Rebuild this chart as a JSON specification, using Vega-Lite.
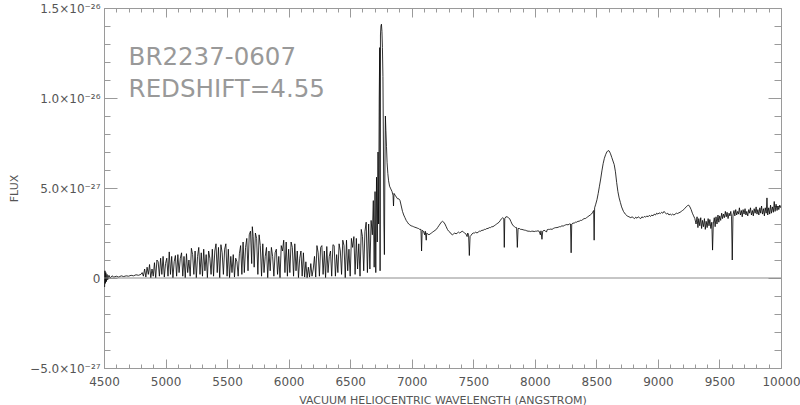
{
  "$schema": "https://vega.github.io/schema/vega-lite/v6.json",
  "autosize": {"type": "none"},
  "padding": {"left": 104, "top": 8, "right": 19, "bottom": 37},
  "width": 677,
  "height": 360,
  "background": "white",
  "config": {
    "view": {"stroke": "#9a9a9a", "strokeWidth": 1},
    "axis": {
      "domainColor": "#9a9a9a",
      "tickColor": "#9a9a9a",
      "labelColor": "#555555",
      "labelFont": "DejaVu Sans",
      "labelFontSize": 12,
      "titleColor": "#555555",
      "titleFont": "DejaVu Sans",
      "titleFontSize": 11,
      "titleFontWeight": "normal",
      "grid": false,
      "labelFlush": false,
      "labelOverlap": false
    }
  },
  "resolve": {"axis": {"x": "independent", "y": "independent"}},
  "layer": [
    {
      "data": {"values": [
        {"w":4505,"f":-0.5e-27},{"w":4508,"f":0.4e-27},{"w":4511,"f":-0.3e-27},{"w":4515,"f":0.3e-27},{"w":4520,"f":-0.2e-27},{"w":4525,"f":0.2e-27},{"w":4530,"f":-0.1e-27},{"w":4540,"f":0.15e-27},{"w":4550,"f":0.0e-27},{"w":4565,"f":0.12e-27},{"w":4580,"f":0.05e-27},{"w":4600,"f":0.1e-27},{"w":4620,"f":0.05e-27},{"w":4640,"f":0.12e-27},{"w":4660,"f":0.08e-27},{"w":4680,"f":0.12e-27},{"w":4700,"f":0.1e-27},{"w":4720,"f":0.15e-27},{"w":4740,"f":0.12e-27},{"w":4760,"f":0.18e-27},{"w":4780,"f":0.15e-27},{"w":4800,"f":0.2e-27},{"w":4810,"f":0.3e-27},
        {"w":4820,"f":0.1e-27},{"w":4830,"f":0.5e-27},{"w":4840,"f":0.05e-27},{"w":4850,"f":0.6e-27},{"w":4860,"f":0.2e-27},{"w":4870,"f":0.75e-27},{"w":4880,"f":0.0e-27},{"w":4890,"f":0.5e-27},{"w":4900,"f":0.1e-27},{"w":4910,"f":0.85e-27},{"w":4920,"f":0.0e-27},{"w":4930,"f":1.0e-27},{"w":4940,"f":0.9e-27},{"w":4950,"f":0.1e-27},{"w":4960,"f":1.1e-27},{"w":4970,"f":0.2e-27},{"w":4980,"f":1.2e-27},{"w":4990,"f":0.05e-27},{"w":5000,"f":0.8e-27},
        {"w":5010,"f":1.1e-27},{"w":5020,"f":0.1e-27},{"w":5030,"f":1.45e-27},{"w":5040,"f":0.2e-27},{"w":5050,"f":1.2e-27},{"w":5060,"f":0.0e-27},{"w":5070,"f":0.9e-27},{"w":5080,"f":1.25e-27},{"w":5090,"f":0.1e-27},{"w":5100,"f":1.3e-27},{"w":5110,"f":0.3e-27},{"w":5120,"f":1.1e-27},{"w":5130,"f":1.4e-27},{"w":5140,"f":0.1e-27},{"w":5150,"f":1.2e-27},{"w":5160,"f":0.0e-27},{"w":5170,"f":1.35e-27},{"w":5180,"f":0.3e-27},{"w":5190,"f":1.0e-27},{"w":5200,"f":0.1e-27},
        {"w":5210,"f":1.65e-27},{"w":5220,"f":1.3e-27},{"w":5230,"f":0.2e-27},{"w":5240,"f":1.5e-27},{"w":5250,"f":0.0e-27},{"w":5260,"f":1.2e-27},{"w":5270,"f":1.7e-27},{"w":5280,"f":0.2e-27},{"w":5290,"f":1.4e-27},{"w":5300,"f":0.1e-27},{"w":5310,"f":1.6e-27},{"w":5320,"f":0.4e-27},{"w":5330,"f":1.3e-27},{"w":5340,"f":0.0e-27},{"w":5350,"f":1.5e-27},{"w":5360,"f":1.1e-27},{"w":5370,"f":0.2e-27},{"w":5380,"f":1.6e-27},{"w":5390,"f":0.1e-27},{"w":5400,"f":1.5e-27},
        {"w":5410,"f":1.9e-27},{"w":5420,"f":0.3e-27},{"w":5430,"f":1.7e-27},{"w":5440,"f":0.0e-27},{"w":5450,"f":1.85e-27},{"w":5460,"f":1.4e-27},{"w":5470,"f":0.2e-27},{"w":5480,"f":1.6e-27},{"w":5490,"f":1.9e-27},{"w":5500,"f":0.1e-27},{"w":5510,"f":1.6e-27},{"w":5520,"f":0.0e-27},{"w":5530,"f":1.2e-27},{"w":5540,"f":0.3e-27},{"w":5550,"f":1.3e-27},{"w":5560,"f":0.05e-27},{"w":5570,"f":1.1e-27},{"w":5580,"f":0.9e-27},{"w":5590,"f":0.1e-27},{"w":5600,"f":1.35e-27},
        {"w":5610,"f":1.8e-27},{"w":5620,"f":0.2e-27},{"w":5630,"f":2.0e-27},{"w":5640,"f":0.3e-27},{"w":5650,"f":1.7e-27},{"w":5660,"f":2.2e-27},{"w":5670,"f":0.4e-27},{"w":5680,"f":2.4e-27},{"w":5690,"f":2.6e-27},{"w":5700,"f":0.8e-27},{"w":5705,"f":2.85e-27},{"w":5712,"f":2.3e-27},{"w":5720,"f":0.6e-27},{"w":5730,"f":2.5e-27},{"w":5740,"f":2.2e-27},{"w":5750,"f":0.2e-27},{"w":5760,"f":2.4e-27},{"w":5770,"f":1.8e-27},{"w":5780,"f":0.1e-27},{"w":5790,"f":1.9e-27},{"w":5800,"f":0.3e-27},
        {"w":5810,"f":1.2e-27},{"w":5820,"f":1.7e-27},{"w":5830,"f":0.0e-27},{"w":5840,"f":1.5e-27},{"w":5850,"f":0.4e-27},{"w":5860,"f":1.7e-27},{"w":5870,"f":1.2e-27},{"w":5880,"f":0.1e-27},{"w":5890,"f":1.4e-27},{"w":5900,"f":1.6e-27},{"w":5910,"f":0.2e-27},{"w":5920,"f":1.2e-27},{"w":5930,"f":0.0e-27},{"w":5940,"f":1.8e-27},{"w":5950,"f":1.5e-27},{"w":5960,"f":2.1e-27},{"w":5970,"f":0.3e-27},{"w":5980,"f":2.0e-27},{"w":5990,"f":0.1e-27},{"w":6000,"f":1.6e-27},
        {"w":6010,"f":0.3e-27},{"w":6020,"f":2.0e-27},{"w":6030,"f":1.7e-27},{"w":6040,"f":0.1e-27},{"w":6050,"f":1.9e-27},{"w":6060,"f":0.4e-27},{"w":6070,"f":1.5e-27},{"w":6080,"f":0.0e-27},{"w":6090,"f":1.1e-27},{"w":6100,"f":1.5e-27},{"w":6110,"f":0.1e-27},{"w":6120,"f":1.4e-27},{"w":6130,"f":0.05e-27},{"w":6140,"f":0.9e-27},{"w":6150,"f":0.0e-27},{"w":6160,"f":0.6e-27},{"w":6170,"f":0.05e-27},{"w":6180,"f":0.8e-27},{"w":6190,"f":0.1e-27},{"w":6200,"f":0.5e-27},
        {"w":6210,"f":1.2e-27},{"w":6220,"f":0.05e-27},{"w":6230,"f":1.8e-27},{"w":6240,"f":1.4e-27},{"w":6250,"f":0.1e-27},{"w":6260,"f":1.7e-27},{"w":6270,"f":1.8e-27},{"w":6280,"f":0.2e-27},{"w":6290,"f":1.5e-27},{"w":6300,"f":0.0e-27},{"w":6310,"f":1.75e-27},{"w":6320,"f":0.3e-27},{"w":6330,"f":1.2e-27},{"w":6340,"f":1.5e-27},{"w":6350,"f":0.1e-27},{"w":6360,"f":1.85e-27},{"w":6370,"f":1.8e-27},{"w":6380,"f":0.1e-27},{"w":6390,"f":1.3e-27},{"w":6400,"f":0.3e-27},
        {"w":6410,"f":1.9e-27},{"w":6420,"f":1.5e-27},{"w":6430,"f":0.2e-27},{"w":6440,"f":2.1e-27},{"w":6450,"f":1.8e-27},{"w":6460,"f":0.0e-27},{"w":6470,"f":2.1e-27},{"w":6480,"f":0.4e-27},{"w":6490,"f":1.6e-27},{"w":6500,"f":0.1e-27},{"w":6510,"f":2.2e-27},{"w":6520,"f":1.7e-27},{"w":6530,"f":2.3e-27},{"w":6540,"f":0.2e-27},{"w":6550,"f":2.2e-27},{"w":6560,"f":0.5e-27},{"w":6570,"f":1.9e-27},{"w":6580,"f":0.1e-27},{"w":6590,"f":2.7e-27},{"w":6600,"f":2.3e-27},
        {"w":6610,"f":0.4e-27},{"w":6620,"f":2.6e-27},{"w":6630,"f":3.1e-27},{"w":6640,"f":0.3e-27},{"w":6650,"f":3.0e-27},{"w":6660,"f":0.5e-27},{"w":6670,"f":3.2e-27},{"w":6680,"f":2.4e-27},{"w":6688,"f":4.3e-27},{"w":6695,"f":0.6e-27},{"w":6702,"f":4.8e-27},{"w":6708,"f":0.3e-27},{"w":6714,"f":5.6e-27},{"w":6720,"f":2.0e-27},{"w":6726,"f":7.0e-27},{"w":6731,"f":3.0e-27},{"w":6736,"f":10.0e-27},{"w":6740,"f":12.8e-27},{"w":6743,"f":0.4e-27},{"w":6746,"f":13.5e-27},
        {"w":6750,"f":14.0e-27},{"w":6754,"f":14.1e-27},{"w":6758,"f":13.7e-27},{"w":6762,"f":12.8e-27},{"w":6766,"f":11.2e-27},{"w":6770,"f":7.5e-27},{"w":6774,"f":3.0e-27},{"w":6778,"f":1.3e-27},{"w":6782,"f":6.0e-27},{"w":6786,"f":9.0e-27},{"w":6790,"f":8.2e-27},{"w":6795,"f":7.3e-27},{"w":6800,"f":6.4e-27},{"w":6806,"f":5.8e-27},{"w":6812,"f":5.4e-27},{"w":6820,"f":5.1e-27},{"w":6830,"f":4.95e-27},{"w":6840,"f":4.8e-27},{"w":6848,"f":4.6e-27},{"w":6852,"f":4.0e-27},{"w":6856,"f":4.7e-27},{"w":6865,"f":4.6e-27},{"w":6875,"f":4.5e-27},{"w":6885,"f":4.4e-27},{"w":6895,"f":4.4e-27},{"w":6905,"f":4.3e-27},
        {"w":6915,"f":4.0e-27},{"w":6925,"f":3.7e-27},{"w":6935,"f":3.5e-27},{"w":6945,"f":3.35e-27},{"w":6955,"f":3.2e-27},{"w":6965,"f":3.1e-27},{"w":6975,"f":3.0e-27},{"w":6985,"f":2.95e-27},{"w":6995,"f":2.9e-27},{"w":7005,"f":2.88e-27},{"w":7015,"f":2.85e-27},{"w":7025,"f":2.82e-27},{"w":7035,"f":2.8e-27},{"w":7045,"f":2.77e-27},{"w":7055,"f":2.75e-27},{"w":7065,"f":2.7e-27},{"w":7075,"f":2.7e-27},{"w":7080,"f":1.5e-27},{"w":7085,"f":2.65e-27},{"w":7095,"f":2.6e-27},{"w":7105,"f":2.4e-27},{"w":7110,"f":2.6e-27},{"w":7118,"f":2.1e-27},{"w":7122,"f":2.5e-27},{"w":7130,"f":2.45e-27},{"w":7140,"f":2.4e-27},
        {"w":7150,"f":2.45e-27},{"w":7160,"f":2.5e-27},{"w":7170,"f":2.55e-27},{"w":7180,"f":2.6e-27},{"w":7190,"f":2.65e-27},{"w":7200,"f":2.7e-27},{"w":7210,"f":2.8e-27},{"w":7220,"f":2.9e-27},{"w":7230,"f":3.0e-27},{"w":7240,"f":3.1e-27},{"w":7250,"f":3.15e-27},{"w":7260,"f":3.1e-27},{"w":7270,"f":3.0e-27},{"w":7280,"f":2.85e-27},{"w":7290,"f":2.7e-27},{"w":7300,"f":2.6e-27},{"w":7310,"f":2.55e-27},{"w":7320,"f":2.45e-27},{"w":7330,"f":2.4e-27},{"w":7340,"f":2.45e-27},{"w":7350,"f":2.5e-27},{"w":7360,"f":2.45e-27},{"w":7370,"f":2.5e-27},{"w":7380,"f":2.55e-27},{"w":7390,"f":2.5e-27},{"w":7400,"f":2.55e-27},
        {"w":7410,"f":2.6e-27},{"w":7420,"f":2.55e-27},{"w":7430,"f":2.5e-27},{"w":7440,"f":2.45e-27},{"w":7450,"f":2.3e-27},{"w":7455,"f":2.5e-27},{"w":7462,"f":2.4e-27},{"w":7468,"f":1.25e-27},{"w":7474,"f":2.3e-27},{"w":7480,"f":2.35e-27},{"w":7490,"f":2.45e-27},{"w":7500,"f":2.5e-27},{"w":7510,"f":2.5e-27},{"w":7520,"f":2.55e-27},{"w":7530,"f":2.5e-27},{"w":7540,"f":2.55e-27},{"w":7550,"f":2.6e-27},{"w":7560,"f":2.6e-27},{"w":7570,"f":2.65e-27},{"w":7580,"f":2.65e-27},{"w":7590,"f":2.7e-27},{"w":7600,"f":2.7e-27},{"w":7610,"f":2.75e-27},{"w":7620,"f":2.75e-27},{"w":7630,"f":2.8e-27},{"w":7640,"f":2.8e-27},
        {"w":7650,"f":2.85e-27},{"w":7660,"f":2.85e-27},{"w":7670,"f":2.9e-27},{"w":7680,"f":2.95e-27},{"w":7690,"f":3.0e-27},{"w":7700,"f":3.05e-27},{"w":7710,"f":3.1e-27},{"w":7720,"f":3.2e-27},{"w":7730,"f":3.3e-27},{"w":7740,"f":3.35e-27},{"w":7748,"f":3.3e-27},{"w":7752,"f":1.7e-27},{"w":7756,"f":3.3e-27},{"w":7765,"f":3.4e-27},{"w":7775,"f":3.4e-27},{"w":7785,"f":3.35e-27},{"w":7795,"f":3.3e-27},{"w":7805,"f":3.15e-27},{"w":7815,"f":3.0e-27},{"w":7825,"f":2.9e-27},{"w":7835,"f":2.85e-27},{"w":7845,"f":2.8e-27},{"w":7852,"f":2.8e-27},{"w":7858,"f":1.7e-27},{"w":7864,"f":2.75e-27},{"w":7875,"f":2.75e-27},
        {"w":7885,"f":2.7e-27},{"w":7895,"f":2.7e-27},{"w":7905,"f":2.68e-27},{"w":7915,"f":2.66e-27},{"w":7925,"f":2.65e-27},{"w":7935,"f":2.62e-27},{"w":7945,"f":2.6e-27},{"w":7955,"f":2.6e-27},{"w":7965,"f":2.58e-27},{"w":7975,"f":2.6e-27},{"w":7985,"f":2.6e-27},{"w":7995,"f":2.58e-27},{"w":8005,"f":2.6e-27},{"w":8015,"f":2.6e-27},{"w":8025,"f":2.62e-27},{"w":8035,"f":2.6e-27},{"w":8045,"f":2.4e-27},{"w":8050,"f":2.62e-27},{"w":8058,"f":2.15e-27},{"w":8064,"f":2.6e-27},{"w":8075,"f":2.65e-27},{"w":8085,"f":2.62e-27},{"w":8095,"f":2.55e-27},{"w":8100,"f":2.68e-27},{"w":8110,"f":2.7e-27},{"w":8120,"f":2.7e-27},
        {"w":8130,"f":2.72e-27},{"w":8140,"f":2.7e-27},{"w":8150,"f":2.75e-27},{"w":8160,"f":2.78e-27},{"w":8170,"f":2.8e-27},{"w":8180,"f":2.8e-27},{"w":8190,"f":2.82e-27},{"w":8200,"f":2.85e-27},{"w":8210,"f":2.85e-27},{"w":8220,"f":2.9e-27},{"w":8230,"f":2.88e-27},{"w":8240,"f":2.92e-27},{"w":8250,"f":2.95e-27},{"w":8260,"f":2.97e-27},{"w":8270,"f":2.95e-27},{"w":8280,"f":3.0e-27},{"w":8290,"f":3.0e-27},{"w":8295,"f":1.4e-27},{"w":8300,"f":3.0e-27},{"w":8310,"f":3.05e-27},{"w":8320,"f":3.05e-27},{"w":8330,"f":3.1e-27},{"w":8340,"f":3.1e-27},{"w":8350,"f":3.15e-27},{"w":8360,"f":3.15e-27},{"w":8370,"f":3.2e-27},
        {"w":8380,"f":3.2e-27},{"w":8390,"f":3.25e-27},{"w":8400,"f":3.3e-27},{"w":8410,"f":3.3e-27},{"w":8420,"f":3.35e-27},{"w":8430,"f":3.4e-27},{"w":8440,"f":3.45e-27},{"w":8450,"f":3.5e-27},{"w":8460,"f":3.55e-27},{"w":8470,"f":3.65e-27},{"w":8478,"f":3.75e-27},{"w":8482,"f":2.1e-27},{"w":8486,"f":3.9e-27},{"w":8495,"f":4.1e-27},{"w":8505,"f":4.35e-27},{"w":8515,"f":4.7e-27},{"w":8525,"f":5.1e-27},{"w":8535,"f":5.5e-27},{"w":8545,"f":5.95e-27},{"w":8555,"f":6.35e-27},{"w":8565,"f":6.65e-27},{"w":8575,"f":6.85e-27},{"w":8585,"f":7.0e-27},{"w":8595,"f":7.08e-27},{"w":8605,"f":7.05e-27},{"w":8615,"f":6.9e-27},
        {"w":8625,"f":6.7e-27},{"w":8635,"f":6.5e-27},{"w":8645,"f":6.3e-27},{"w":8655,"f":5.9e-27},{"w":8665,"f":5.3e-27},{"w":8675,"f":4.8e-27},{"w":8685,"f":4.45e-27},{"w":8695,"f":4.2e-27},{"w":8705,"f":3.95e-27},{"w":8720,"f":3.7e-27},{"w":8735,"f":3.55e-27},{"w":8750,"f":3.45e-27},{"w":8765,"f":3.4e-27},{"w":8780,"f":3.35e-27},{"w":8790,"f":3.4e-27},{"w":8800,"f":3.35e-27},{"w":8810,"f":3.3e-27},{"w":8820,"f":3.38e-27},{"w":8830,"f":3.32e-27},{"w":8840,"f":3.4e-27},{"w":8850,"f":3.35e-27},{"w":8860,"f":3.3e-27},{"w":8870,"f":3.4e-27},{"w":8880,"f":3.35e-27},{"w":8890,"f":3.42e-27},{"w":8900,"f":3.38e-27},
        {"w":8910,"f":3.45e-27},{"w":8920,"f":3.4e-27},{"w":8930,"f":3.48e-27},{"w":8940,"f":3.42e-27},{"w":8950,"f":3.5e-27},{"w":8960,"f":3.45e-27},{"w":8970,"f":3.55e-27},{"w":8980,"f":3.5e-27},{"w":8990,"f":3.6e-27},{"w":9000,"f":3.55e-27},{"w":9010,"f":3.62e-27},{"w":9020,"f":3.58e-27},{"w":9030,"f":3.65e-27},{"w":9040,"f":3.6e-27},{"w":9050,"f":3.7e-27},{"w":9060,"f":3.62e-27},{"w":9070,"f":3.55e-27},{"w":9080,"f":3.6e-27},{"w":9090,"f":3.5e-27},{"w":9100,"f":3.55e-27},{"w":9110,"f":3.5e-27},{"w":9120,"f":3.55e-27},{"w":9130,"f":3.5e-27},{"w":9140,"f":3.55e-27},{"w":9150,"f":3.6e-27},{"w":9160,"f":3.58e-27},
        {"w":9170,"f":3.62e-27},{"w":9180,"f":3.65e-27},{"w":9190,"f":3.7e-27},{"w":9200,"f":3.75e-27},{"w":9210,"f":3.8e-27},{"w":9220,"f":3.88e-27},{"w":9230,"f":3.95e-27},{"w":9240,"f":4.02e-27},{"w":9250,"f":4.05e-27},{"w":9260,"f":3.95e-27},{"w":9270,"f":3.8e-27},{"w":9280,"f":3.6e-27},{"w":9290,"f":3.45e-27},{"w":9300,"f":3.3e-27},{"w":9310,"f":3.0e-27},{"w":9318,"f":3.4e-27},{"w":9325,"f":2.8e-27},{"w":9332,"f":3.3e-27},{"w":9340,"f":2.9e-27},{"w":9348,"f":3.35e-27},{"w":9355,"f":2.75e-27},{"w":9362,"f":3.2e-27},{"w":9370,"f":2.85e-27},{"w":9378,"f":3.3e-27},{"w":9385,"f":2.7e-27},{"w":9392,"f":3.15e-27},
        {"w":9400,"f":2.8e-27},{"w":9408,"f":3.3e-27},{"w":9415,"f":2.9e-27},{"w":9422,"f":3.25e-27},{"w":9430,"f":2.75e-27},{"w":9438,"f":3.1e-27},{"w":9444,"f":1.55e-27},{"w":9450,"f":3.0e-27},{"w":9458,"f":3.35e-27},{"w":9465,"f":2.85e-27},{"w":9472,"f":3.4e-27},{"w":9480,"f":3.0e-27},{"w":9488,"f":3.5e-27},{"w":9495,"f":3.1e-27},{"w":9502,"f":3.45e-27},{"w":9510,"f":3.2e-27},{"w":9518,"f":3.6e-27},{"w":9525,"f":3.3e-27},{"w":9532,"f":3.55e-27},{"w":9540,"f":3.35e-27},{"w":9548,"f":3.7e-27},{"w":9555,"f":3.4e-27},{"w":9562,"f":3.65e-27},{"w":9570,"f":3.3e-27},{"w":9578,"f":3.6e-27},{"w":9585,"f":3.45e-27},
        {"w":9592,"f":3.7e-27},{"w":9598,"f":3.4e-27},{"w":9604,"f":1.0e-27},{"w":9610,"f":3.5e-27},{"w":9618,"f":3.75e-27},{"w":9625,"f":3.45e-27},{"w":9632,"f":3.8e-27},{"w":9640,"f":3.5e-27},{"w":9648,"f":3.7e-27},{"w":9655,"f":3.55e-27},{"w":9662,"f":3.9e-27},{"w":9670,"f":3.5e-27},{"w":9678,"f":3.75e-27},{"w":9685,"f":3.4e-27},{"w":9692,"f":3.8e-27},{"w":9700,"f":3.55e-27},{"w":9708,"f":3.85e-27},{"w":9715,"f":3.5e-27},{"w":9722,"f":3.7e-27},{"w":9730,"f":3.45e-27},{"w":9738,"f":3.8e-27},{"w":9745,"f":3.6e-27},{"w":9752,"f":3.9e-27},{"w":9760,"f":3.5e-27},{"w":9768,"f":3.75e-27},{"w":9775,"f":3.45e-27},
        {"w":9782,"f":3.85e-27},{"w":9790,"f":3.6e-27},{"w":9798,"f":3.95e-27},{"w":9805,"f":3.55e-27},{"w":9812,"f":3.8e-27},{"w":9820,"f":3.5e-27},{"w":9828,"f":3.9e-27},{"w":9835,"f":3.6e-27},{"w":9842,"f":4.0e-27},{"w":9850,"f":3.55e-27},{"w":9858,"f":3.85e-27},{"w":9865,"f":3.45e-27},{"w":9872,"f":3.9e-27},{"w":9880,"f":3.6e-27},{"w":9886,"f":4.45e-27},{"w":9892,"f":3.5e-27},{"w":9900,"f":3.9e-27},{"w":9908,"f":3.55e-27},{"w":9915,"f":4.05e-27},{"w":9922,"f":3.6e-27},{"w":9930,"f":3.95e-27},{"w":9938,"f":3.65e-27},{"w":9945,"f":4.25e-27},{"w":9952,"f":3.7e-27},{"w":9960,"f":4.1e-27},{"w":9968,"f":3.75e-27},{"w":9975,"f":4.0e-27},{"w":9982,"f":3.8e-27},{"w":9990,"f":4.05e-27},{"w":9996,"f":3.9e-27}
      ]},
      "mark": {"type": "line", "color": "#000000", "strokeWidth": 0.8, "clip": true},
      "encoding": {
        "x": {
          "field": "w", "type": "quantitative",
          "scale": {"domain": [4500, 10000], "nice": false, "zero": false},
          "axis": {
            "orient": "bottom",
            "title": "VACUUM HELIOCENTRIC WAVELENGTH (ANGSTROM)",
            "titleBaseline": "alphabetic",
            "titleY": 35,
            "values": [4500,4600,4700,4800,4900,5000,5100,5200,5300,5400,5500,5600,5700,5800,5900,6000,6100,6200,6300,6400,6500,6600,6700,6800,6900,7000,7100,7200,7300,7400,7500,7600,7700,7800,7900,8000,8100,8200,8300,8400,8500,8600,8700,8800,8900,9000,9100,9200,9300,9400,9500,9600,9700,9800,9900,10000],
            "labelExpr": "datum.value % 500 === 0 ? toString(datum.value) : ''",
            "tickSize": {"condition": {"test": "datum.value % 500 === 0", "value": -9}, "value": -4},
            "labelPadding": 17
          }
        },
        "y": {
          "field": "f", "type": "quantitative",
          "scale": {"domain": [-5e-27, 1.5e-26], "nice": false, "zero": false},
          "axis": {
            "orient": "left",
            "title": "FLUX",
            "titlePadding": 10,
            "values": [-5e-27,-4e-27,-3e-27,-2e-27,-1e-27,0,1e-27,2e-27,3e-27,4e-27,5e-27,6e-27,7e-27,8e-27,9e-27,1e-26,1.1e-26,1.2e-26,1.3e-26,1.4e-26,1.5e-26],
            "labelExpr": "round(datum.value*1e27) === 15 ? '1.5×10⁻²⁶' : round(datum.value*1e27) === 10 ? '1.0×10⁻²⁶' : round(datum.value*1e27) === 5 ? '5.0×10⁻²⁷' : round(datum.value*1e27) === 0 ? '0' : round(datum.value*1e27) === -5 ? '−5.0×10⁻²⁷' : ''",
            "tickSize": {"condition": {"test": "abs(round(datum.value*1e27)) % 5 === 0", "value": -13}, "value": -6},
            "labelPadding": 17
          }
        }
      }
    },
    {
      "data": {"values": [{"w0": 4500, "w1": 10000, "z": 0}]},
      "mark": {"type": "rule", "color": "#8c8c8c", "strokeWidth": 1},
      "encoding": {
        "x": {
          "field": "w0", "type": "quantitative",
          "axis": {
            "orient": "top", "title": null, "labels": false, "domain": false,
            "values": [4500,4600,4700,4800,4900,5000,5100,5200,5300,5400,5500,5600,5700,5800,5900,6000,6100,6200,6300,6400,6500,6600,6700,6800,6900,7000,7100,7200,7300,7400,7500,7600,7700,7800,7900,8000,8100,8200,8300,8400,8500,8600,8700,8800,8900,9000,9100,9200,9300,9400,9500,9600,9700,9800,9900,10000],
            "tickSize": {"condition": {"test": "datum.value % 500 === 0", "value": -9}, "value": -4}
          }
        },
        "x2": {"field": "w1"},
        "y": {
          "field": "z", "type": "quantitative",
          "axis": {
            "orient": "right", "title": null, "labels": false, "domain": false,
            "values": [-5e-27,-4e-27,-3e-27,-2e-27,-1e-27,0,1e-27,2e-27,3e-27,4e-27,5e-27,6e-27,7e-27,8e-27,9e-27,1e-26,1.1e-26,1.2e-26,1.3e-26,1.4e-26,1.5e-26],
            "tickSize": {"condition": {"test": "abs(round(datum.value*1e27)) % 5 === 0", "value": -13}, "value": -7}
          }
        }
      }
    },
    {
      "data": {"values": [{"name": "BR2237-0607", "z": "REDSHIFT=4.55"}]},
      "mark": {"type": "text", "align": "left", "baseline": "alphabetic", "font": "DejaVu Sans", "fontSize": 24.5, "color": "#999999", "lineHeight": 32},
      "encoding": {
        "x": {"datum": 4700, "type": "quantitative", "axis": null},
        "y": {"datum": 1.183e-26, "type": "quantitative", "axis": null},
        "text": {"value": ["BR2237-0607", "REDSHIFT=4.55"]}
      }
    }
  ]
}
